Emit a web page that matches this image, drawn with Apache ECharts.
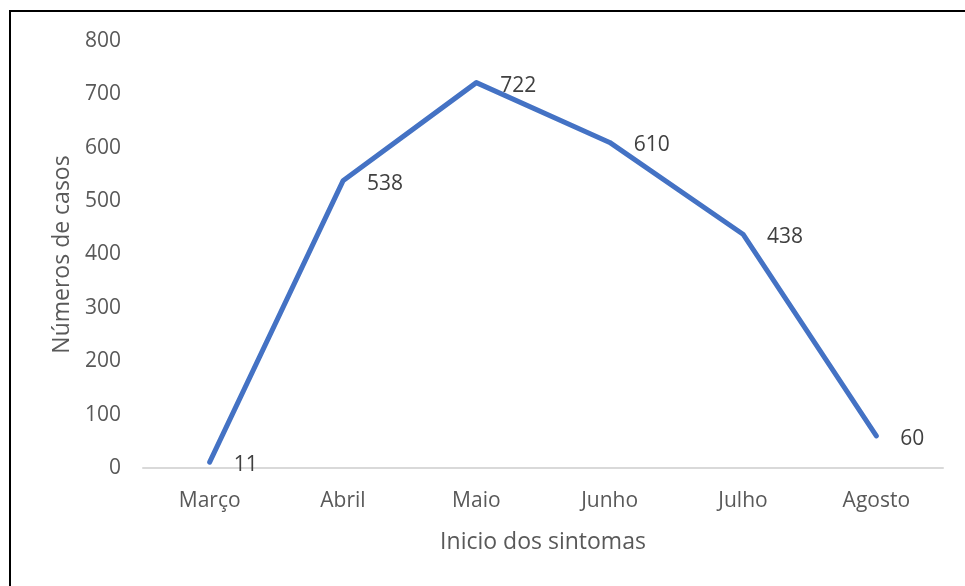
<!DOCTYPE html>
<html><head><meta charset="utf-8">
<script src="https://cdn.jsdelivr.net/npm/echarts@6/dist/echarts.min.js"></script>
<style>html,body{margin:0;padding:0;background:#fff}#c{width:965px;height:586px}</style>
</head><body><div id="c"></div>
<script>
const categories = ['Março','Abril','Maio','Junho','Julho','Agosto'];
const casos = [11, 538, 722, 610, 438, 60];
const yTicks = [0, 100, 200, 300, 400, 500, 600, 700, 800];
const xTitle = 'Inicio dos sintomas';
const yTitle = 'Números de casos';

const FONT = '"Open Sans", "Noto Sans", sans-serif';
const chart = echarts.init(document.getElementById('c'), null, {renderer:'canvas'});
chart.setOption({
  backgroundColor:'#fff',
  animation:false,
  grid:{left:143, right:22, top:41, bottom:118, containLabel:false},
  graphic:[
    {type:'line', shape:{x1:9, y1:11, x2:965, y2:11}, style:{stroke:'#000', lineWidth:2}, silent:true},
    {type:'line', shape:{x1:10, y1:10, x2:10, y2:586}, style:{stroke:'#000', lineWidth:2}, silent:true}
  ],
  xAxis:{
    type:'category', data:categories, boundaryGap:true,
    name:xTitle, nameLocation:'middle', nameGap:63,
    nameTextStyle:{color:'#595959', fontSize:23, fontFamily:FONT},
    axisLine:{lineStyle:{color:'#d9d9d9', width:2}},
    axisTick:{show:false},
    axisLabel:{color:'#595959', fontSize:21, fontFamily:FONT, margin:23}
  },
  yAxis:{
    type:'value', min:yTicks[0], max:yTicks[yTicks.length-1], interval:100,
    name:yTitle, nameLocation:'middle', nameGap:68,
    nameTextStyle:{color:'#595959', fontSize:23, fontFamily:FONT},
    axisLine:{show:false}, axisTick:{show:false}, splitLine:{show:false},
    axisLabel:{color:'#595959', fontSize:21, fontFamily:FONT, margin:22}
  },
  series:[{
    type:'line', data:casos,
    symbol:'circle', symbolSize:2, showSymbol:true,
    itemStyle:{color:'rgba(68,114,196,0)', borderWidth:0},
    lineStyle:{color:'#4472C4', width:5, cap:'round', join:'round'},
    label:{show:true, position:'right', distance:23, offset:[0,3], color:'#404040', fontSize:21, fontFamily:FONT}
  }]
});
</script></body></html>
